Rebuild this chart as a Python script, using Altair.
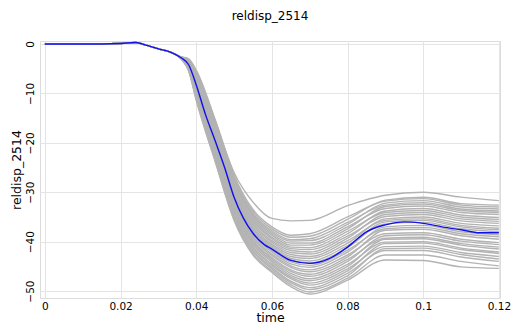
import altair as alt
import pandas as pd

# ---- data ----
# common early part of every gray run
early_t = [0.0, 0.015, 0.02, 0.024, 0.027, 0.03, 0.033]
early_v = [0.0, 0.0, 0.1, 0.3, -0.3, -1.0, -1.6]

# later part of the gray runs: one array per time, one entry per run
late_t = [0.036, 0.038, 0.04, 0.045, 0.05, 0.055, 0.06, 0.065, 0.07, 0.08, 0.09, 0.1, 0.11, 0.12]
g036 = [-2.6, -2.6, -2.6, -2.65, -2.7, -2.7, -2.7, -2.7, -2.7, -2.75, -2.75, -2.75, -2.8, -2.8, -2.8, -2.8, -2.8, -2.85, -2.85, -2.9, -2.9, -2.9, -2.9, -2.95, -2.95, -3.0, -3.0, -3.0, -3.0]
g038 = [-3.2, -3.0, -3.1, -3.2, -3.3, -3.4, -3.5, -3.6, -3.6, -3.7, -3.8, -3.9, -4.0, -4.1, -4.2, -4.3, -4.4, -4.5, -4.5, -4.6, -4.7, -4.8, -4.9, -5.0, -5.1, -5.2, -5.3, -5.4, -5.4]
g040 = [-5.5, -5.3, -5.6, -5.8, -6.0, -6.3, -6.5, -6.7, -6.9, -7.2, -7.4, -7.6, -7.8, -8.1, -8.3, -8.5, -8.7, -9.0, -9.2, -9.4, -9.6, -9.9, -10.1, -10.3, -10.5, -10.8, -11.0, -11.2, -11.4]
g045 = [-15.5, -15.3, -15.7, -16.0, -16.3, -16.6, -16.9, -17.3, -17.5, -17.9, -18.2, -18.5, -18.8, -19.2, -19.4, -19.8, -20.1, -20.4, -20.7, -21.0, -21.3, -21.7, -22.0, -22.3, -22.6, -22.9, -23.2, -23.6, -23.8]
g050 = [-26.0, -26.5, -26.9, -27.3, -27.6, -27.9, -28.2, -28.6, -28.9, -29.3, -29.6, -30.0, -30.3, -30.6, -30.9, -31.3, -31.6, -32.0, -32.3, -32.7, -33.0, -33.3, -33.6, -34.0, -34.3, -34.7, -35.0, -35.4, -35.7]
g055 = [-32.0, -33.5, -33.9, -34.3, -34.6, -34.9, -35.2, -35.6, -35.9, -36.3, -36.6, -37.0, -37.3, -37.6, -37.9, -38.3, -38.6, -39.0, -39.3, -39.7, -40.0, -40.3, -40.6, -41.0, -41.3, -41.7, -42.0, -42.4, -42.7]
g060 = [-35.3, -37.0, -37.4, -37.8, -38.1, -38.4, -38.7, -39.1, -39.4, -39.8, -40.1, -40.5, -40.8, -41.1, -41.4, -41.8, -42.1, -42.5, -42.8, -43.2, -43.5, -43.8, -44.1, -44.5, -44.8, -45.2, -45.5, -45.9, -46.2]
g065 = [-35.8, -38.7, -39.1, -39.6, -39.9, -40.3, -40.7, -41.1, -41.4, -41.8, -42.2, -42.6, -43.0, -43.4, -43.7, -44.1, -44.5, -44.9, -45.2, -45.7, -46.0, -46.4, -46.8, -47.2, -47.5, -48.0, -48.3, -48.7, -49.1]
g070 = [-35.7, -38.4, -38.9, -39.4, -39.8, -40.3, -40.7, -41.2, -41.6, -42.1, -42.5, -43.0, -43.4, -43.9, -44.3, -44.8, -45.2, -45.7, -46.1, -46.6, -47.0, -47.5, -47.9, -48.4, -48.8, -49.3, -49.7, -50.2, -50.6]
g080 = [-32.7, -35.0, -35.5, -36.1, -36.5, -37.0, -37.4, -37.9, -38.4, -38.9, -39.3, -39.8, -40.3, -40.8, -41.2, -41.7, -42.1, -42.7, -43.1, -43.6, -44.0, -44.6, -45.0, -45.5, -45.9, -46.4, -46.9, -47.4, -47.8]
g090 = [-30.6, -31.8, -31.6, -32.6, -32.2, -33.3, -32.9, -34.1, -33.8, -34.9, -34.5, -35.7, -35.4, -36.4, -36.0, -37.4, -37.0, -38.4, -37.7, -39.3, -38.8, -40.1, -39.5, -41.0, -40.4, -41.8, -41.4, -42.7, -43.7]
g100 = [-30.0, -31.3, -31.0, -32.1, -31.7, -32.8, -32.4, -33.7, -33.3, -34.5, -34.1, -35.4, -35.0, -36.1, -35.7, -37.1, -36.7, -38.2, -37.5, -39.1, -38.6, -40.0, -39.4, -40.9, -40.3, -41.8, -41.3, -42.7, -43.8]
g110 = [-31.0, -32.6, -32.3, -33.4, -33.0, -34.1, -33.7, -35.0, -34.6, -35.8, -35.4, -36.7, -36.3, -37.4, -37.0, -38.4, -38.0, -39.5, -38.8, -40.4, -39.9, -41.3, -40.7, -42.2, -41.6, -43.1, -42.6, -44.0, -45.1]
g120 = [-31.7, -33.0, -32.6, -33.8, -33.4, -34.5, -34.1, -35.5, -35.1, -36.3, -35.9, -37.3, -36.8, -38.0, -37.6, -39.0, -38.6, -40.2, -39.5, -41.1, -40.6, -42.1, -41.5, -43.0, -42.4, -44.0, -43.5, -44.9, -45.4]

# highlighted (blue) run
blue_t = [0.0, 0.015, 0.02, 0.024, 0.027, 0.03, 0.033, 0.036, 0.038, 0.04, 0.0425, 0.045, 0.0475,
          0.05, 0.0525, 0.055, 0.058, 0.06, 0.065, 0.07, 0.075, 0.08, 0.085, 0.09, 0.095, 0.1,
          0.105, 0.11, 0.115, 0.12]
blue_v = [0.0, 0.0, 0.1, 0.3, -0.3, -1.0, -1.6, -2.8, -4.2, -8.3, -14.4, -19.6, -25.0,
          -31.0, -35.3, -38.3, -40.6, -41.5, -43.8, -44.4, -43.5, -41.1, -38.0, -36.6, -36.0, -36.3,
          -37.0, -37.6, -38.2, -38.2]

x_ticks = [0, 0.02, 0.04, 0.06, 0.08, 0.1, 0.12]
y_ticks = [-50, -40, -30, -20, -10, 0]
title_text = "reldisp_2514"

# ---- build tables ----
late_cols = [g036, g038, g040, g045, g050, g055, g060, g065, g070, g080, g090, g100, g110, g120]
rows = []
for run in range(len(g036)):
    for t, v in zip(early_t, early_v):
        rows.append({"run": run, "time": t, "value": v})
    for t, col in zip(late_t, late_cols):
        rows.append({"run": run, "time": t, "value": col[run]})
gray_df = pd.DataFrame(rows)
blue_df = pd.DataFrame({"time": blue_t, "value": blue_v})

font = "DejaVu Sans"
xscale = alt.Scale(domain=[-0.0013, 0.1203], nice=False, zero=False)
yscale = alt.Scale(domain=[-51.4, 0.6], nice=False, zero=False)

xaxis = alt.Axis(values=x_ticks, format="~g", title="time", grid=True, domain=False,
                 ticks=False, labelPadding=3, titlePadding=0, labelFontSize=10.5,
                 titleFontSize=12.5, labelFont=font, titleFont=font, labelColor="#000",
                 titleColor="#000", titleFontWeight="normal", gridColor="#e4e4e4")
yaxis = alt.Axis(values=y_ticks, title="reldisp_2514", grid=True, domain=False, ticks=False,
                 labelAngle=-90, labelAlign="center", labelBaseline="bottom", labelPadding=5,
                 titlePadding=2, labelFontSize=10.5, titleFontSize=12.5, labelFont=font,
                 titleFont=font, labelColor="#000", titleColor="#000",
                 titleFontWeight="normal", gridColor="#e4e4e4")

gray = alt.Chart(gray_df).mark_line(color="#b3b3b3", strokeWidth=1.4, interpolate="monotone").encode(
    x=alt.X("time:Q", scale=xscale, axis=xaxis),
    y=alt.Y("value:Q", scale=yscale, axis=yaxis),
    detail="run:N",
)
blue = alt.Chart(blue_df).mark_line(color="#1010ee", strokeWidth=1.4, interpolate="monotone").encode(
    x=alt.X("time:Q", scale=xscale),
    y=alt.Y("value:Q", scale=yscale),
)

chart = alt.layer(gray, blue).properties(
    width=460, height=257,
    title=alt.TitleParams(title_text, font=font, fontSize=12, fontWeight="normal",
                          color="#000", offset=17, anchor="middle"),
    autosize=alt.AutoSizeParams(type="none"),
    padding={"left": 32, "top": 33, "right": 13, "bottom": 27},
).configure_view(stroke="#8a8a8a", strokeWidth=1.2).configure(background="white")

chart.save("out.html", embed_options={"renderer": "svg", "actions": False})
